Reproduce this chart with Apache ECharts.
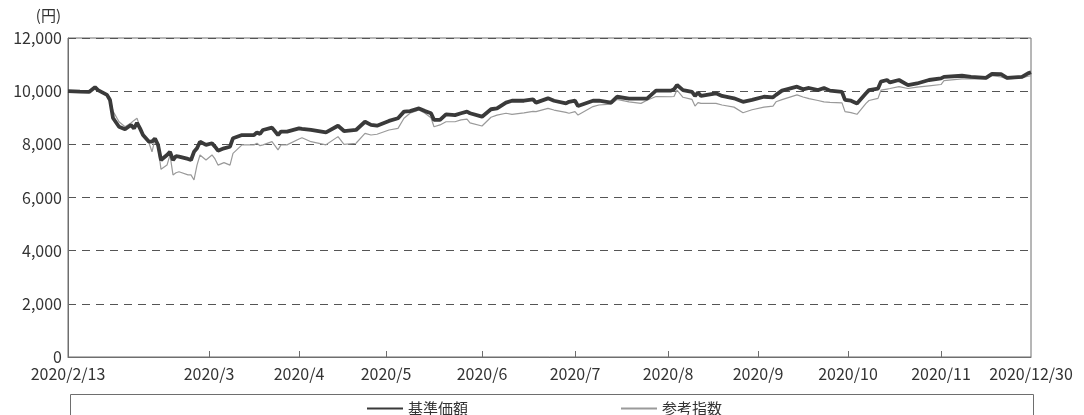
<!DOCTYPE html>
<html>
<head>
<meta charset="utf-8">
<title>基準価額と参考指数</title>
<script src="https://cdn.jsdelivr.net/npm/echarts@6/dist/echarts.min.js"></script>
<style>
    html, body { margin: 0; padding: 0; background: #fff; }
    #chart { width: 1084px; height: 415px; }
</style>
</head>
<body>
<div id="chart"></div>
<script>
//日付
var dates = [
    '2020-02-13','2020-02-17','2020-02-20','2020-02-22','2020-02-23','2020-02-26','2020-02-27','2020-02-28',
    '2020-03-01','2020-03-03','2020-03-05','2020-03-06','2020-03-07','2020-03-08','2020-03-09','2020-03-11',
    '2020-03-12','2020-03-13','2020-03-14','2020-03-15','2020-03-17','2020-03-18','2020-03-19','2020-03-20',
    '2020-03-21','2020-03-24','2020-03-25','2020-03-26','2020-03-27','2020-03-28','2020-03-30',
    '2020-04-01','2020-04-02','2020-04-03','2020-04-05','2020-04-07','2020-04-08','2020-04-11','2020-04-15',
    '2020-04-16','2020-04-17','2020-04-18','2020-04-21','2020-04-23','2020-04-24','2020-04-26','2020-04-30',
    '2020-05-01','2020-05-04','2020-05-09','2020-05-13','2020-05-15','2020-05-19','2020-05-22','2020-05-24',
    '2020-05-26','2020-05-30',
    '2020-06-02','2020-06-04','2020-06-06','2020-06-09','2020-06-11','2020-06-13','2020-06-14','2020-06-16',
    '2020-06-18','2020-06-21','2020-06-23','2020-06-25','2020-06-26','2020-06-30',
    '2020-07-03','2020-07-05','2020-07-08','2020-07-10','2020-07-14','2020-07-17','2020-07-18','2020-07-22',
    '2020-07-24','2020-07-28','2020-07-29','2020-07-31',
    '2020-08-01','2020-08-06','2020-08-08','2020-08-12','2020-08-14','2020-08-18','2020-08-22','2020-08-24',
    '2020-08-27',
    '2020-09-01','2020-09-02','2020-09-03','2020-09-05','2020-09-08','2020-09-09','2020-09-10','2020-09-11',
    '2020-09-16','2020-09-18','2020-09-22','2020-09-25','2020-09-28',
    '2020-10-02','2020-10-05','2020-10-06','2020-10-08','2020-10-13','2020-10-15','2020-10-17','2020-10-20',
    '2020-10-22','2020-10-24','2020-10-28','2020-10-29','2020-10-31',
    '2020-11-02','2020-11-05','2020-11-06','2020-11-09','2020-11-10','2020-11-12','2020-11-13','2020-11-16',
    '2020-11-19','2020-11-22','2020-11-26','2020-11-30',
    '2020-12-01','2020-12-07','2020-12-10','2020-12-15','2020-12-17','2020-12-20','2020-12-22','2020-12-27',
    '2020-12-29','2020-12-30'
];
//基準価額
var navValues = [
    10000,9980,9970,10150,10040,9860,9670,8990,
    8660,8570,8730,8600,8810,8600,8350,8100,
    8100,8220,7980,7410,7600,7720,7410,7560,
    7540,7450,7410,7720,7850,8100,7980,
    8040,7910,7760,7850,7910,8230,8350,8350,
    8450,8390,8540,8630,8350,8480,8480,8600,
    8580,8540,8450,8700,8500,8540,8850,8730,
    8700,8880,
    8980,9230,9250,9350,9250,9170,8920,8920,
    9130,9100,9170,9230,9170,9040,
    9320,9350,9570,9640,9640,9690,9570,9730,
    9640,9540,9600,9640,
    9440,9640,9640,9570,9790,9720,9720,9720,
    10020,
    10020,10070,10230,10040,9970,9820,9950,9820,
    9920,9820,9730,9600,9670,
    9790,9770,9860,10020,10170,10070,10120,10040,
    10120,10020,9970,9670,9640,
    9540,9920,10040,10100,10360,10420,10330,10420,
    10230,10290,10420,10480,
    10540,10580,10540,10500,10650,10640,10500,10540,
    10670,10710
];
//参考指数
var indexValues = [
    10000,9990,9980,10150,10060,9880,9740,9250,
    8850,8660,8800,8900,8980,8650,8350,8050,
    7720,8200,7900,7060,7220,7600,6850,6930,
    6970,6850,6850,6660,7220,7600,7410,
    7600,7450,7220,7310,7220,7660,7980,7980,
    8040,7950,7980,8100,7790,7980,7980,8200,
    8250,8100,7980,8290,8000,8040,8410,8350,
    8380,8540,
    8600,8980,9170,9290,9170,9000,8660,8730,
    8850,8850,8920,8950,8810,8690,
    9020,9100,9170,9130,9180,9240,9230,9350,
    9290,9200,9170,9230,
    9100,9420,9480,9510,9690,9600,9540,9660,
    9800,
    9790,9800,10040,9770,9690,9440,9570,9540,
    9540,9480,9400,9190,9300,
    9400,9440,9600,9680,9860,9780,9720,9650,
    9600,9580,9560,9230,9190,
    9130,9540,9650,9730,10040,10080,10100,10170,
    10100,10150,10200,10250,
    10400,10460,10460,10460,10580,10540,10460,10500,
    10560,10580
];
//目盛り
var tickDates = ['2020-02-13','2020-03-31','2020-04-30','2020-05-29','2020-06-30','2020-07-31',
    '2020-08-31','2020-09-30','2020-10-30','2020-11-30','2020-12-30'];
var tickLabels = ['2020/2/13','2020/3','2020/4','2020/5','2020/6','2020/7',
    '2020/8','2020/9','2020/10','2020/11','2020/12/30'];
var yTicks = [0, 2000, 4000, 6000, 8000, 10000, 12000];

var FONT = '"Noto Sans CJK JP", "Noto Sans", sans-serif';

//日付文字列→時刻(ローカル)
function toTime(s) {
    var p = s.split('-');
    return new Date(+p[0], +p[1] - 1, +p[2]).getTime();
}

function pairs(values) {
    var arr = [];
    for (var i = 0; i < dates.length; i++) {
        arr.push([toTime(dates[i]), values[i]]);
    }
    return arr;
}

var tickTimes = tickDates.map(toTime);

var chart = echarts.init(document.getElementById('chart'));
var option = {
    animation: false,
    textStyle: { fontFamily: FONT },
    grid: {
        left: 68,
        right: 53,
        top: 38,
        bottom: 58,
        show: true,
        borderColor: '#6e6e6e',
        borderWidth: 1
    },
    legend: {
        left: 361,
        top: 396,
        itemWidth: 36,
        itemHeight: 12,
        itemGap: 152,
        itemStyle: { opacity: 0 },
        textStyle: { fontSize: 15, color: '#333', fontFamily: FONT },
        data: ['基準価額', '参考指数']
    },
    graphic: [{
        type: 'rect',
        left: 68,
        top: 392,
        shape: { width: 963, height: 40 },
        style: { fill: 'none', stroke: '#6e6e6e', lineWidth: 1 },
        silent: true
    }],
    xAxis: {
        type: 'value',
        min: tickTimes[0],
        max: tickTimes[tickTimes.length - 1],
        axisLine: { show: true, onZero: false, lineStyle: { color: '#6e6e6e', width: 1 } },
        axisTick: {
            show: true,
            inside: true,
            length: 6,
            customValues: tickTimes.slice(1, tickTimes.length - 1),
            lineStyle: { color: '#6e6e6e' }
        },
        axisLabel: {
            customValues: tickTimes,
            hideOverlap: false,
            showMinLabel: true,
            showMaxLabel: true,
            fontSize: 16,
            color: '#333',
            margin: 9,
            formatter: function (value) {
                var i = tickTimes.indexOf(value);
                return i >= 0 ? tickLabels[i] : '';
            }
        },
        splitLine: { show: false }
    },
    yAxis: {
        type: 'value',
        min: yTicks[0],
        max: yTicks[yTicks.length - 1],
        interval: 2000,
        name: '(円)',
        nameLocation: 'end',
        nameGap: 15,
        nameTextStyle: { fontSize: 15, color: '#333', align: 'right', padding: [0, 7, 0, 0] },
        axisLine: { show: true, lineStyle: { color: '#6e6e6e', width: 1 } },
        axisTick: { show: false },
        axisLabel: {
            fontSize: 16,
            color: '#333',
            margin: 6,
            formatter: function (v) { return v.toLocaleString('en-US'); }
        },
        splitLine: {
            show: true,
            lineStyle: { color: '#555', width: 1.2, type: [8, 6] }
        }
    },
    series: [
        {
            name: '基準価額',
            type: 'line',
            data: pairs(navValues),
            showSymbol: false,
            symbol: 'none',
            z: 3,
            lineStyle: { color: '#3a3a3a', width: 3.8 },
            itemStyle: { color: '#3a3a3a' }
        },
        {
            name: '参考指数',
            type: 'line',
            data: pairs(indexValues),
            showSymbol: false,
            symbol: 'none',
            z: 2,
            lineStyle: { color: '#9a9a9a', width: 1.2 },
            itemStyle: { color: '#9a9a9a' }
        }
    ]
};
chart.setOption(option);
</script>
</body>
</html>
